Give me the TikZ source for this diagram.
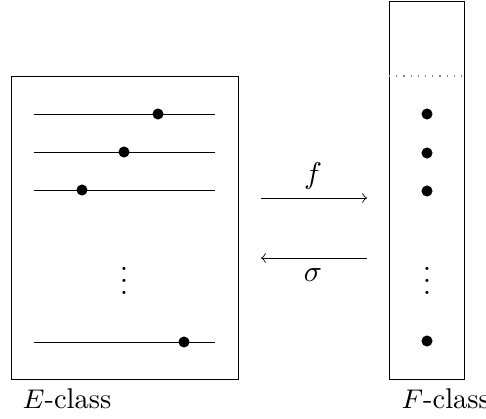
\documentclass[tikz,border=0pt]{standalone}
\usetikzlibrary{arrows}
\begin{document}
\begin{tikzpicture}[x=0.3333pt,y=-0.3333pt,
  boxstyle/.style={draw,line width=0.3pt,inner sep=0pt},
  rowline/.style={line width=0.3pt},
  bead/.style={circle,fill=black,inner sep=0pt,minimum size=3.7pt},
  lbl/.style={font=\fontsize{9.5}{11}\selectfont,inner sep=0pt,anchor=base west},
  maparrow/.style={->,line width=0.3pt,>=to}]
\useasboundingbox (0,0) rectangle (486,419);
% E box
\node[boxstyle,minimum width=75.67pt,minimum height=101pt] (E) at (124.5,227.5) {};
% F box
\node[boxstyle,minimum width=25pt,minimum height=126pt] (F) at (426.5,190) {};
% lines in E
\coordinate (l1a) at (34,114); \coordinate (l1b) at (215,114);
\coordinate (l2a) at (34,152); \coordinate (l2b) at (215,152);
\coordinate (l3a) at (34,190); \coordinate (l3b) at (215,190);
\coordinate (l4a) at (34,342); \coordinate (l4b) at (215,342);
\draw[rowline] (l1a) -- (l1b);
\draw[rowline] (l2a) -- (l2b);
\draw[rowline] (l3a) -- (l3b);
\draw[rowline] (l4a) -- (l4b);
\node[bead] (e1) at (158,114) {};
\node[bead] (e2) at (124,152) {};
\node[bead] (e3) at (82,190) {};
\node[bead] (e4) at (184,342) {};
\node[inner sep=0pt] (ev) at (124,272) {$\vdots$};
% F contents
\coordinate (da) at (389,76); \coordinate (db) at (462,76);
\draw[gray,line width=0.4pt,dash pattern=on 0.4pt off 2pt] (da) -- (db);
\node[bead] (f1) at (427,114) {};
\node[bead] (f2) at (427,153) {};
\node[bead] (f3) at (427,191) {};
\node[bead] (f4) at (427,341) {};
\node[inner sep=0pt] (fv) at (427,272) {$\vdots$};
% arrows
\coordinate (a1) at (261,198); \coordinate (a2) at (367,198);
\coordinate (b1) at (367,258); \coordinate (b2) at (261,258);
\draw[maparrow] (a1) -- (a2);
\draw[maparrow] (b1) -- (b2);
\node[inner sep=0pt] (flab) at (313,176) {$f$};
\node[inner sep=0pt] (slab) at (313,275) {$\sigma$};
% labels
\node[lbl] (Elab) at (22,409) {$E$-class};
\node[lbl] (Flab) at (401,409) {$F$-class};
\end{tikzpicture}
\end{document}
